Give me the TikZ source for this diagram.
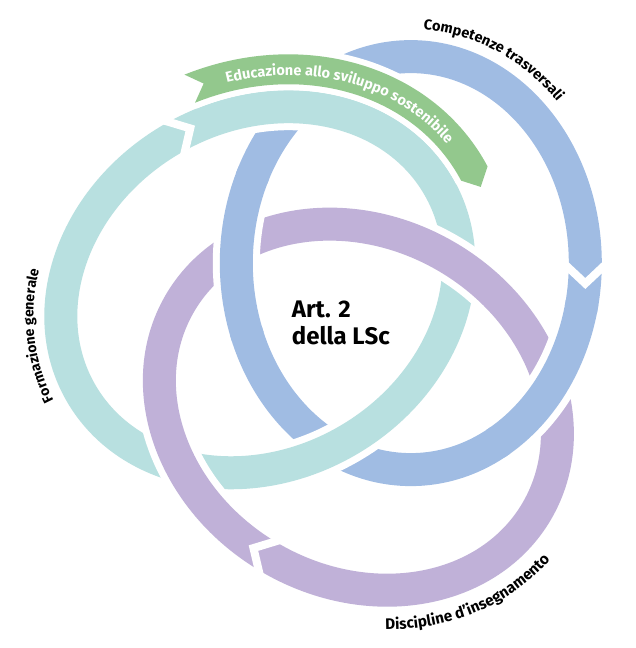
\documentclass[tikz,border=0pt]{standalone}
\usepackage{fontspec}
\setmainfont{Fira Sans}
\usetikzlibrary{decorations.text}
\definecolor{cblue}{HTML}{A0BCE3}
\definecolor{cteal}{HTML}{B8E0E0}
\definecolor{cpurple}{HTML}{C0B1D8}
\definecolor{cgreen}{HTML}{93C88D}
\begin{document}
\begin{tikzpicture}[x=1pt,y=1pt,
  band/.style={line width=33pt},
  casing/.style={draw=white, line width=47pt},
  junction/.style={draw=white, line width=8pt, line join=miter, miter limit=20},
  ringpos/.style={rotate=#1, shift={(67.8,56.9)}}]
\useasboundingbox (-343,-328) rectangle (292,320);
% blue ring
\begin{scope}[ringpos=0]
  \draw[band, cblue] (0,0) ellipse[x radius=174.5pt, y radius=206.5pt];
\end{scope}
% teal ring over blue
\begin{scope}[ringpos=120]
  \draw[casing] (0,0) ellipse[x radius=174.5pt, y radius=206.5pt];
  \draw[band, cteal] (0,0) ellipse[x radius=174.5pt, y radius=206.5pt];
\end{scope}
% purple ring over teal
\begin{scope}[ringpos=240]
  \draw[casing] (0,0) ellipse[x radius=174.5pt, y radius=206.5pt];
  \draw[band, cpurple] (0,0) ellipse[x radius=174.5pt, y radius=206.5pt];
\end{scope}
% blue over purple at both crossings
\begin{scope}[ringpos=0]
  \draw[casing] (156:174.5pt and 206.5pt) arc[start angle=156, end angle=199, x radius=174.5pt, y radius=206.5pt];
  \draw[band, cblue] (154:174.5pt and 206.5pt) arc[start angle=154, end angle=201, x radius=174.5pt, y radius=206.5pt];
  \draw[casing] (-59:174.5pt and 206.5pt) arc[start angle=-59, end angle=-13, x radius=174.5pt, y radius=206.5pt];
  \draw[band, cblue] (-61:174.5pt and 206.5pt) arc[start angle=-61, end angle=-11, x radius=174.5pt, y radius=206.5pt];
\end{scope}
% green arrow
\begin{scope}[ringpos=120]
  \path[draw=white, fill=white, line width=12pt, line join=round]
    (-9.4:227pt and 259pt) arc[start angle=-9.4, end angle=-91.8, x radius=227pt, y radius=259pt]
    -- (-95.8:212pt and 244pt) -- (-91.8:197pt and 229pt)
    arc[start angle=-91.8, end angle=-9.4, x radius=197pt, y radius=229pt]
    -- (-12.9:212pt and 244pt) -- cycle;
  \fill[cgreen]
    (-9.4:227pt and 259pt) arc[start angle=-9.4, end angle=-91.8, x radius=227pt, y radius=259pt]
    -- (-95.8:212pt and 244pt) -- (-91.8:197pt and 229pt)
    arc[start angle=-91.8, end angle=-9.4, x radius=197pt, y radius=229pt]
    -- (-12.9:212pt and 244pt) -- cycle;
\end{scope}
% junction chevrons
\foreach \r in {0,120,240} {
  \draw[junction, rotate=\r] (222,55.5) -- (242.3,36.5) -- (262.5,55.5);
}
% green label
\path[decorate, decoration={text along path, text align=center, text color=white,
  text={|\bfseries\fontsize{14.5pt}{14.5pt}\selectfont|Educazione allo sviluppo sostenibile}}]
  plot[domain=7:94, samples=90, variable=\u]
  ({-0.5*(67.8+206*cos(\u)) - 0.866*(56.9-238*sin(\u))}, {0.866*(67.8+206*cos(\u)) - 0.5*(56.9-238*sin(\u))});
% blue label
\path[decorate, decoration={text along path, text align=center,
  text={|\bfseries\fontsize{14.5pt}{14.5pt}\selectfont|Competenze trasversali}}]
  plot[domain=24:108, samples=90, variable=\u]
  ({67.8+202*cos(132-\u)}, {56.9+234*sin(132-\u)});
% teal label
\path[decorate, decoration={text along path, text align=center,
  text={|\bfseries\fontsize{14pt}{14pt}\selectfont|Formazione generale}}]
  plot[domain=34:106, samples=90, variable=\u]
  ({-0.5*(67.8+202*cos(140-\u)) - 0.866*(56.9+234*sin(140-\u))}, {0.866*(67.8+202*cos(140-\u)) - 0.5*(56.9+234*sin(140-\u))});
% purple label
\path[decorate, decoration={text along path, text align=center,
  text={|\bfseries\fontsize{15.3pt}{15.3pt}\selectfont|Discipline d’insegnamento}}]
  plot[domain=13:103, samples=90, variable=\u]
  ({-0.5*(67.8+214*cos(\u)) + 0.866*(56.9+246*sin(\u))}, {-0.866*(67.8+214*cos(\u)) - 0.5*(56.9+246*sin(\u))});
% centre text
\node[anchor=base west, inner sep=0pt, font=\bfseries\fontsize{24pt}{24pt}\selectfont] (art) at (-51.3,2.7) {Art. 2};
\node[anchor=base west, inner sep=0pt, font=\bfseries\fontsize{24pt}{24pt}\selectfont] (lsc) at (-51.3,-24.3) {della LSc};
\end{tikzpicture}
\end{document}
